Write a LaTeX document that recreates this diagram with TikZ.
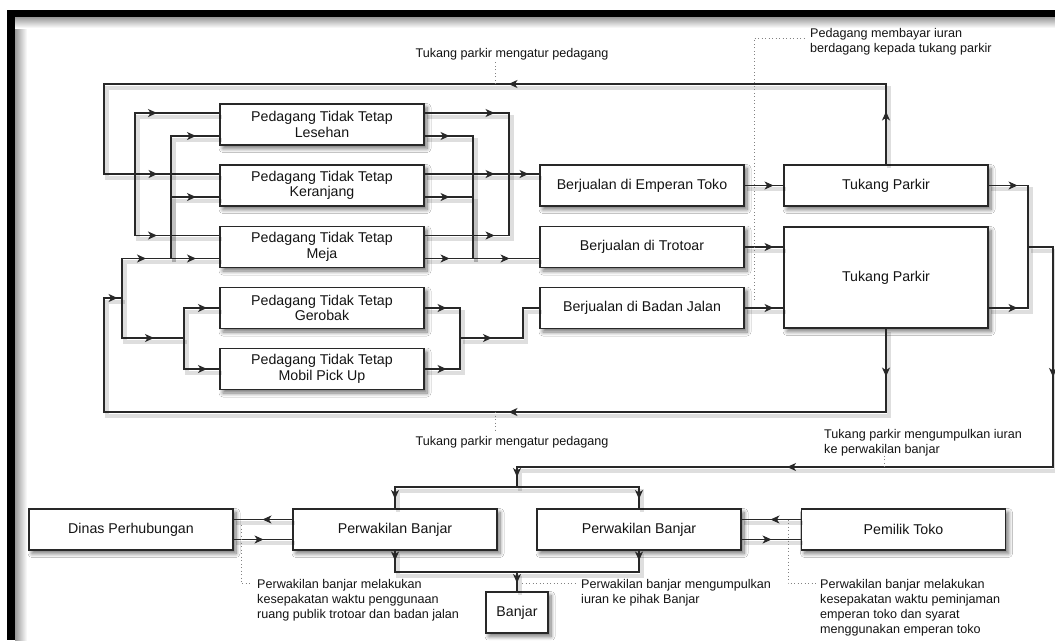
\documentclass[tikz,border=0pt]{standalone}
\usepackage{fontspec}
\setmainfont{Liberation Sans}
\usetikzlibrary{arrows.meta,decorations.markings,shadows.blur}
\definecolor{lc}{RGB}{40,40,40}
\definecolor{tc}{RGB}{20,20,20}
\definecolor{dc}{RGB}{130,130,130}
\newcommand\bxf{\fontsize{14.2}{15.5}\selectfont}
\newcommand\lbf{\fontsize{12.6}{15}\selectfont}
\begin{document}
\begin{tikzpicture}[x=1pt,y=-1pt,
  >={Stealth[length=9pt,width=8pt,inset=2.5pt]},
  box/.style={draw=lc, line width=1.1pt, fill=white, minimum width=204, minimum height=41,
    inner sep=0pt, align=center, font=\bxf, text=tc,
    blur shadow={shadow xshift=3pt, shadow yshift=-3.5pt, shadow blur steps=8, shadow blur radius=4pt, shadow opacity=55}},
  conn/.style={draw=lc, line width=1.1pt,
    preaction={draw=black, draw opacity=0.13, line width=4pt, transform canvas={shift={(2.5,3.5)}}}},
  mk/.style={postaction={decorate, decoration={markings, mark=at position #1 with {\arrow[lc]{>}}}}},
  dotl/.style={draw=dc, line width=0.8pt, dash pattern=on 1pt off 2.5pt},
  lbl/.style={font=\lbf, text=tc, inner sep=0pt, align=left}]

% canvas and frame
\fill[white] (0,0) rectangle (1055,640);
\useasboundingbox (0,0) rectangle (1055,640);
\fill[black] (7,10) rectangle (1055,17);
\fill[black] (7,10) rectangle (15,640);
\shade[left color=black!40, right color=white] (15,17) rectangle (27,640);
\shade[top color=black!40, bottom color=white] (15,17) rectangle (1055,28);

% boxes
\node[box] (L1) at (322,124.5) {Pedagang Tidak Tetap\\Lesehan};
\node[box] (L2) at (322,185.5) {Pedagang Tidak Tetap\\Keranjang};
\node[box] (L3) at (322,247) {Pedagang Tidak Tetap\\Meja};
\node[box] (L4) at (322,308) {Pedagang Tidak Tetap\\Gerobak};
\node[box] (L5) at (322,369) {Pedagang Tidak Tetap\\Mobil Pick Up};
\node[box] (M1) at (642,185.5) {Berjualan di Emperan Toko};
\node[box] (M2) at (642,247) {Berjualan di Trotoar};
\node[box] (M3) at (642,308) {Berjualan di Badan Jalan};
\node[box] (T1) at (886,185.5) {Tukang Parkir};
\node[box, minimum height=101] (T2) at (886,277.5) {Tukang Parkir};
\node[box] (D) at (131,529.5) {Dinas Perhubungan};
\node[box] (P1) at (395,529.5) {Perwakilan Banjar};
\node[box] (P2) at (639,529.5) {Perwakilan Banjar};
\node[box] (PT) at (903.5,529.5) {Pemilik Toko};
\node[box, minimum width=62] (B) at (517,612.5) {Banjar};

% junction points
\coordinate (tl) at (104,84);
\coordinate (tlb) at (104,174);
\coordinate (j135) at (135,174);
\coordinate (bl) at (104,412);
\coordinate (blt) at (104,298);
\coordinate (j122) at (122,298);
\coordinate (j171) at (171,258.5);
\coordinate (j184) at (184,338);
\coordinate (j509) at (509,174);
\coordinate (j473) at (473,258.5);
\coordinate (j460) at (460,338);
\coordinate (j523) at (523,338);
\coordinate (j1028) at (1028,247);
\coordinate (rt) at (1053,247);
\coordinate (rb) at (1053,467);
\coordinate (j517) at (517,467);
\coordinate (j517b) at (517,487);
\coordinate (j517c) at (517,572);

% top loop: Tukang Parkir -> pedagang
\path[conn, mk=53pt, mk=458pt, mk=1006pt] (T1.north) |- (tl) -- (tlb) -- ([yshift=11.5pt]L2.west);
\path[conn, mk=83pt] (j135) |- ([yshift=11.5pt]L1.west);
\path[conn, mk=83.5pt] (j135) |- ([yshift=11.5pt]L3.west);

% bottom loop
\path[conn, mk=48pt, mk=461pt, mk=993pt] (T2.south) |- (bl) -- (blt) -- (j122);
\path[conn, mk=63.5pt, mk=113.5pt] (j122) |- ([yshift=-11.5pt]L3.west);
\path[conn, mk=72pt] (j122) |- (j184);
\path[conn, mk=147.5pt] (j171) |- ([yshift=-11.5pt]L1.west);
\path[conn, mk=86.5pt] (j171) |- ([yshift=-11.5pt]L2.west);
\path[conn, mk=53pt] (j184) |- (L4.west);
\path[conn, mk=54pt] (j184) |- (L5.west);

% pedagang -> lokasi
\path[conn, mk=70pt] ([yshift=11.5pt]L1.east) -| (j509);
\path[conn, mk=70pt, mk=104pt] ([yshift=11.5pt]L2.east) -- ([yshift=11.5pt]M1.west);
\path[conn, mk=70pt] ([yshift=11.5pt]L3.east) -| (j509);
\path[conn, mk=25pt] ([yshift=-11.5pt]L1.east) -| (j473);
\path[conn, mk=25pt] ([yshift=-11.5pt]L2.east) -| (j473);
\path[conn, mk=25pt, mk=85pt] ([yshift=-11.5pt]L3.east) -- ([yshift=-11.5pt]M2.west);
\path[conn, mk=22pt] (L4.east) -| (j460);
\path[conn, mk=22pt] (L5.east) -| (j460);
\path[conn, mk=32pt] (j460) -- (j523) |- (M3.west);

% lokasi -> tukang parkir
\path[conn, mk=29pt] (M1.east) -- (T1.west);
\path[conn, mk=29pt] (M2.east) -- ([yshift=30.5pt]T2.west);
\path[conn, mk=29pt] (M3.east) -- ([yshift=-30.5pt]T2.west);

% tukang parkir -> perwakilan banjar
\path[conn, mk=29pt] (T1.east) -| (j1028);
\path[conn, mk=29pt] ([yshift=-30.5pt]T2.east) -| (j1028);
\path[conn, mk=155pt, mk=511pt, mk=791pt] (j1028) -- (rt) -- (rb) -- (j517) -- (j517b);
\path[conn, mk=134pt] (j517b) -| (P1.north);
\path[conn, mk=134pt] (j517b) -| (P2.north);

% bottom relations
\path[conn, mk=30pt] ([yshift=10pt]P1.west) -- ([yshift=10pt]D.east);
\path[conn, mk=30pt] ([yshift=-10pt]D.east) -- ([yshift=-10pt]P1.west);
\path[conn, mk=30.5pt] ([yshift=10pt]PT.west) -- ([yshift=10pt]P2.east);
\path[conn, mk=30pt] ([yshift=-10pt]P2.east) -- ([yshift=-10pt]PT.west);
\path[conn, mk=10pt] (P1.south) |- (j517c);
\path[conn, mk=10pt] (P2.south) |- (j517c);
\path[conn, mk=11pt] (j517c) -- (B.north);

% labels
\node[lbl] (lt) at (512,54) {Tukang parkir mengatur pedagang};
\node[lbl] (lb) at (512,442) {Tukang parkir mengatur pedagang};
\node[lbl, anchor=north west] (la) at (810,28) {Pedagang membayar iuran\\berdagang kepada tukang parkir};
\node[lbl, anchor=north west] (lk) at (824,429) {Tukang parkir mengumpulkan iuran\\ke perwakilan banjar};
\node[lbl, anchor=north west] (ld) at (257,579) {Perwakilan banjar melakukan\\kesepakatan waktu penggunaan\\ruang publik trotoar dan badan jalan};
\node[lbl, anchor=north west] (lj) at (581,579) {Perwakilan banjar mengumpulkan\\iuran ke pihak Banjar};
\node[lbl, anchor=north west] (lp) at (820,579) {Perwakilan banjar melakukan\\kesepakatan waktu peminjaman\\emperan toko dan syarat\\menggunakan emperan toko};

% dotted label connectors
\coordinate (dt) at (495,84);
\coordinate (db) at (495,412);
\coordinate (da) at (754,300);
\coordinate (dk) at (884,467);
\coordinate (dd) at (241,525);
\coordinate (dj) at (522,583.5);
\coordinate (dp) at (788,519.5);
\draw[dotl] (dt) -- ++(0,-22);
\draw[dotl] (db) -- ++(0,19);
\draw[dotl] (da) |- ([xshift=-5pt,yshift=-10pt]la.north west);
\draw[dotl] (dk) -- ++(0,-12);
\draw[dotl] (dd) |- ([xshift=-5pt,yshift=-4.5pt]ld.north west);
\draw[dotl] (dj) -- ([xshift=-4pt,yshift=-4.5pt]lj.north west);
\draw[dotl] (dp) |- ([xshift=-3pt,yshift=-4.5pt]lp.north west);
\end{tikzpicture}
\end{document}
